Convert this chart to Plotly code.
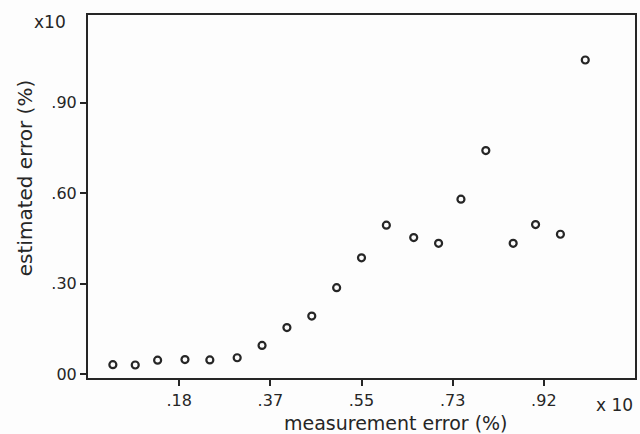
import plotly.graph_objects as go

# measurement error (x10 %) and estimated error (x10 %)
measurement_error = [0.05, 0.095, 0.14, 0.195, 0.245, 0.30, 0.35, 0.40, 0.45, 0.50,
                     0.55, 0.60, 0.655, 0.705, 0.75, 0.80, 0.855, 0.90, 0.95, 1.00]
estimated_error = [0.032, 0.031, 0.047, 0.049, 0.048, 0.055, 0.096, 0.155, 0.193, 0.287,
                   0.386, 0.494, 0.453, 0.434, 0.580, 0.741, 0.434, 0.496, 0.464, 1.041]

x_tick_vals = [1.1 / 6, 2.2 / 6, 3.3 / 6, 4.4 / 6, 5.5 / 6]
x_tick_text = [".18", ".37", ".55", ".73", ".92"]
y_tick_vals = [0.0, 0.30, 0.60, 0.90]
y_tick_text = ["00", ".30", ".60", ".90"]

ink = "#262626"
font_family = "DejaVu Sans"

fig = go.Figure()
fig.add_trace(go.Scatter(
    x=measurement_error, y=estimated_error, mode="markers",
    marker=dict(symbol="circle-open", size=7, color=ink, line=dict(width=2.2, color=ink)),
    showlegend=False, hoverinfo="skip",
))

fig.update_layout(
    width=640, height=434,
    margin=dict(l=88, r=3, t=15, b=56),
    paper_bgcolor="#fdfdfd", plot_bgcolor="#fdfdfd",
    font=dict(family=font_family, color=ink, size=16),
    xaxis=dict(
        range=[0, 1.1], showgrid=False, zeroline=False,
        showline=True, linecolor=ink, linewidth=2, mirror=True,
        ticks="outside", ticklen=6, tickwidth=2, tickcolor=ink,
        tickvals=x_tick_vals, ticktext=x_tick_text, ticklabelstandoff=1,
        tickfont=dict(size=16, family=font_family, color=ink),
    ),
    yaxis=dict(
        range=[-0.012, 1.19], showgrid=False, zeroline=False,
        showline=True, linecolor=ink, linewidth=2, mirror=True,
        ticks="outside", ticklen=6, tickwidth=2, tickcolor=ink,
        tickvals=y_tick_vals, ticktext=y_tick_text,
        tickfont=dict(size=16, family=font_family, color=ink),
    ),
    annotations=[
        dict(text="measurement error (%)", xref="paper", yref="paper",
             x=(397 - 88) / 549, y=-(423 - 378) / 363, xanchor="center", yanchor="middle",
             showarrow=False, font=dict(size=19, family=font_family, color=ink)),
        dict(text="estimated error (%)", xref="paper", yref="paper",
             x=-(88 - 25) / 549, y=(378 - 178) / 363, xanchor="center", yanchor="middle",
             textangle=-90, showarrow=False, font=dict(size=20, family=font_family, color=ink)),
        dict(text="x10", xref="paper", yref="paper",
             x=-(88 - 50) / 549, y=(378 - 22) / 363, xanchor="center", yanchor="middle",
             showarrow=False, font=dict(size=17, family=font_family, color=ink)),
        dict(text="x 10", xref="paper", yref="paper",
             x=(616 - 88) / 549, y=-(405 - 378) / 363, xanchor="center", yanchor="middle",
             showarrow=False, font=dict(size=17, family=font_family, color=ink)),
    ],
)

fig.write_html("out.html")
